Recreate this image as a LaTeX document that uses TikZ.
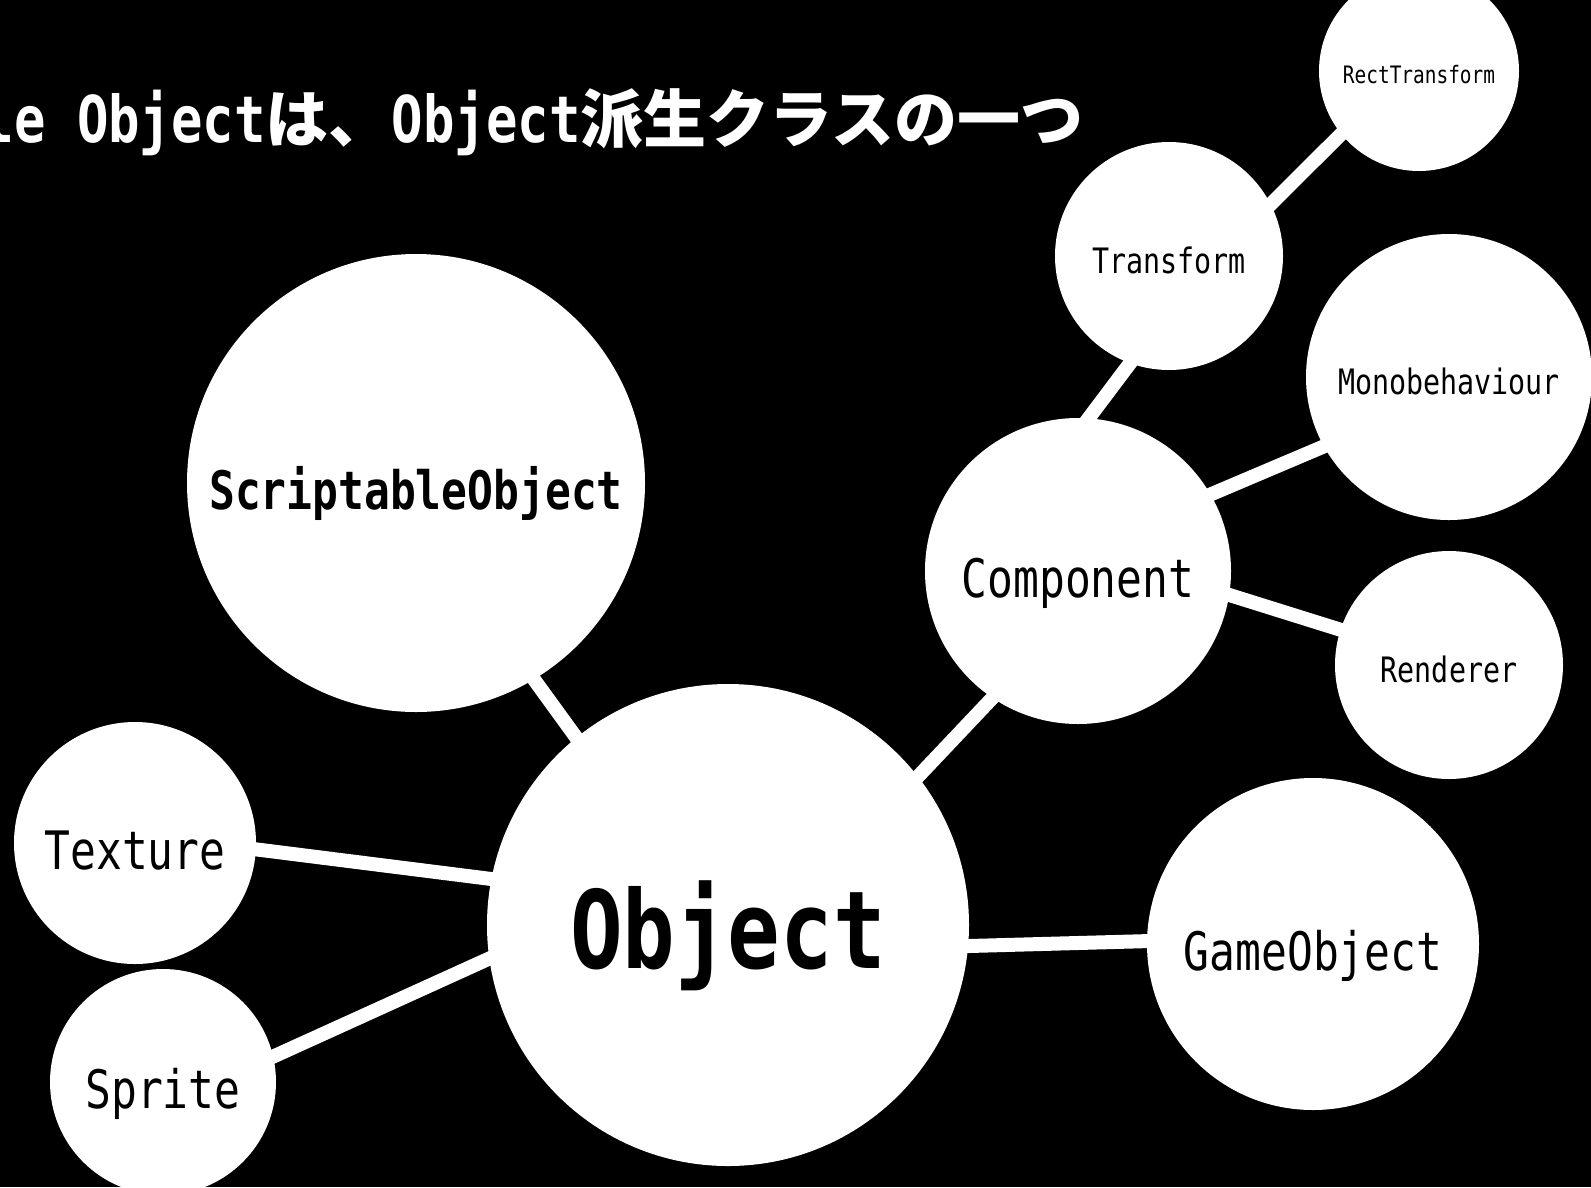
\documentclass[tikz,border=0pt]{standalone}
\usepackage{fontspec}
\newfontfamily\mono[FakeStretch=0.81]{DejaVu Sans Mono}
\newfontfamily\jp{Noto Sans CJK JP}
\pgfdeclarelayer{back}
\pgfdeclarelayer{lines}
\pgfsetlayers{back,lines,main}
\begin{document}
\begin{tikzpicture}[x=1pt,y=-1pt,
  bubble/.style={circle, fill=white, draw=none, inner sep=0pt, text=black, text depth=0pt},
  link/.style={draw=white, line width=14pt, shorten <=-14pt, shorten >=-14pt},
  hugel/.style={font=\mono\bfseries\fontsize{108}{110}\selectfont, text height=86pt},
  bigbl/.style={font=\mono\bfseries\fontsize{53}{60}\selectfont, text height=52pt},
  bigl/.style={font=\mono\fontsize{53}{60}\selectfont, text height=52pt},
  midl/.style={font=\mono\fontsize{35}{40}\selectfont, text height=34pt},
  smalll/.style={font=\mono\fontsize{24}{28}\selectfont, text height=24pt}
]
\useasboundingbox (0,0) rectangle (1591,1187);
\begin{pgfonlayer}{back}
  \fill[black] (0,0) rectangle (1591,1187);
\end{pgfonlayer}

\node[anchor=base west, inner sep=0pt, text=white,
  font=\mono\bfseries\fontsize{64.5}{70}\selectfont] (title) at (-17.5,142)
  {le Object{\jp\fontsize{63}{70}\selectfont は、}Object{\jp\fontsize{63}{70}\selectfont 派生クラスの一つ}};

\node[bubble, hugel, minimum size=482pt] (obj) at (728,925) {Object};
\node[bubble, bigbl, minimum size=458pt] (so) at (416,483) {ScriptableObject};
\node[bubble, bigl, minimum size=242pt] (tex) at (135,843) {Texture};
\node[bubble, bigl, minimum size=226pt] (spr) at (163,1082) {Sprite};
\node[bubble, bigl, minimum size=332pt] (go) at (1313,944) {GameObject};
\node[bubble, bigl, minimum size=306pt] (comp) at (1078,571) {Component};
\node[bubble, midl, minimum size=228pt] (tr) at (1169,256) {Transform};
\node[bubble, smalll, minimum size=200pt] (rt) at (1419,71) {RectTransform};
\node[bubble, midl, minimum size=286pt] (mono) at (1449,377) {Monobehaviour};
\node[bubble, midl, minimum size=228pt] (ren) at (1449,665) {Renderer};

\begin{pgfonlayer}{lines}
  \draw[link] (obj.129.6) -- (so.-59);
  \draw[link] (tex.-3) -- (obj.169);
  \draw[link] (spr.13) -- (obj.188);
  \draw[link] (obj.-5) -- (go.179);
  \draw[link] (obj.38) -- (comp.236);
  \draw[link] (comp.86) -- (tr.250);
  \draw[link] (tr.27.5) -- (rt.219);
  \draw[link] (comp.30) -- (mono.209);
  \draw[link] (comp.-9.5) -- (ren.162);
\end{pgfonlayer}
\end{tikzpicture}
\end{document}
